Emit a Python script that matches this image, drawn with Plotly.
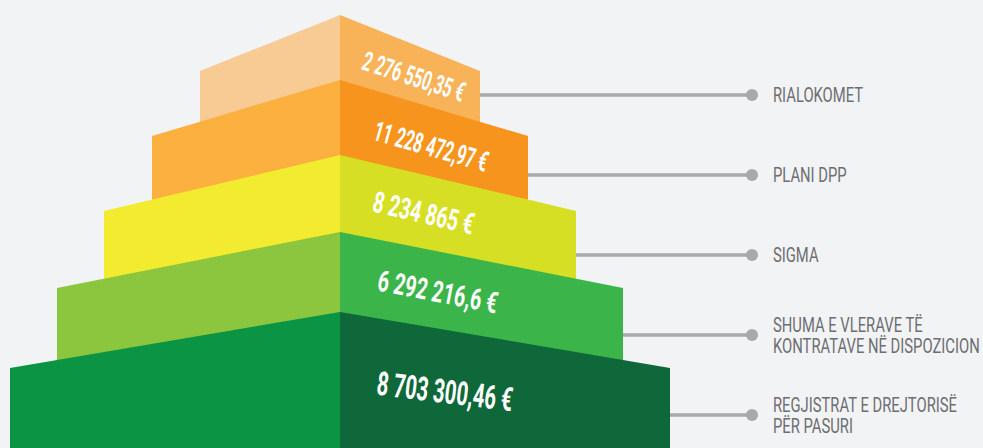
import json
import plotly.graph_objects as go

# ---- data (top layer first) ----
categories = ["RIALOKOMET", "PLANI DPP", "SIGMA",
              "SHUMA E VLERAVE TË<br>KONTRATAVE NË DISPOZICION",
              "REGJISTRAT E DREJTORISË<br>PËR PASURI"]
values = [2276550.35, 11228472.97, 8234865, 6292216.6, 8703300.46]

left_colors = ["#f8ca94", "#fbb040", "#f2eb30", "#8cc63f", "#0b9444"]
right_colors = ["#f8b257", "#f7941e", "#d6df23", "#3bb54a", "#0e6839"]


def fmt(v):
    s = f"{v:,}"
    return s.replace(",", " ").replace(".", ",") + " €"


W, H = 983, 448
CX = 340
apex_y = [15, 80, 155, 232, 312]
corner_drop = 56
half_w = [140, 188, 236, 283, 330]
line_y = [95, 175, 255, 335, 415]
val_x = [414, 431, 423, 438, 445]
val_y = [77, 146, 213, 292, 391]
text_angle = [18, 16, 13, 11, 7]
text_size = [27, 28, 29.5, 29.5, 33]
text_scale = [0.585, 0.575, 0.655, 0.67, 0.615]
cat_size = 20
cat_scale = 0.74
cat_line_gap = 21
dot_x = 752
BG = "#f2f3f5"
GRAY = "#a7a9ac"
FONT = "Roboto, Liberation Sans, sans-serif"

fig = go.Figure()
for i in range(len(categories)):
    ay = apex_y[i]
    cy = ay + corner_drop
    xl, xr = CX - half_w[i], CX + half_w[i]
    fig.add_trace(go.Scatter(x=[xl, CX, CX, xl, xl], y=[cy, ay, H, H, cy],
                             mode="lines", fill="toself", fillcolor=left_colors[i],
                             line=dict(width=0, color=left_colors[i]), hoverinfo="skip",
                             showlegend=False))
    fig.add_trace(go.Scatter(x=[CX, xr, xr, CX, CX], y=[ay, cy, H, H, ay],
                             mode="lines", fill="toself", fillcolor=right_colors[i],
                             line=dict(width=0, color=right_colors[i]), hoverinfo="skip",
                             showlegend=False))

cat_ann, val_ann = [], []
for i, (cat, val) in enumerate(zip(categories, values)):
    xr = CX + half_w[i]
    fig.add_trace(go.Scatter(x=[xr, dot_x], y=[line_y[i], line_y[i]], mode="lines",
                             line=dict(width=3.5, color=GRAY), hoverinfo="skip",
                             showlegend=False))
    fig.add_trace(go.Scatter(x=[dot_x], y=[line_y[i]], mode="markers",
                             marker=dict(size=12, color=GRAY), hoverinfo="skip",
                             showlegend=False))
    lines = cat.split("<br>")
    n = len(lines)
    for k, ln in enumerate(lines):
        yy = line_y[i] + (k - (n - 1) / 2) * cat_line_gap
        cat_ann.append(dict(x=771, y=yy, text=ln, showarrow=False,
                            xanchor="left", yanchor="middle", align="left",
                            font=dict(family=FONT, size=cat_size, color="#6d6e71")))
    val_ann.append(dict(x=val_x[i], y=val_y[i], text="<b>" + fmt(val) + "</b>",
                        showarrow=False, textangle=text_angle[i],
                        xanchor="center", yanchor="middle",
                        font=dict(family=FONT, size=text_size[i], color="#ffffff")))

fig.update_layout(
    width=W, height=H, margin=dict(l=0, r=0, t=0, b=0),
    paper_bgcolor=BG, plot_bgcolor=BG,
    xaxis=dict(range=[0, W], visible=False, fixedrange=True),
    yaxis=dict(range=[H, 0], visible=False, fixedrange=True),
    annotations=cat_ann + val_ann,
)

# condense the text horizontally (the original uses a narrow display typeface)
post = """
document.body.style.margin = '0';
document.body.style.background = '%s';
function condense() {
  var gd = document.getElementById('{plot_id}');
  var texts = gd.querySelectorAll('.annotation-text');
  var n = %d;
  var vs = %s;
  texts.forEach(function(t, i) {
    var b = t.getBBox();
    var s = i < n ? %f : vs[i - n];
    var ox = i < n ? b.x : b.x + b.width / 2;
    t.setAttribute('transform', 'translate(' + ox + ',0) scale(' + s + ',1) translate(' + (-ox) + ',0)');
  });
}
condense();
setTimeout(condense, 50);
""" % (BG, len(cat_ann), json.dumps(text_scale), cat_scale)

fig.write_html("out.html", config={"displayModeBar": False}, post_script=post)
